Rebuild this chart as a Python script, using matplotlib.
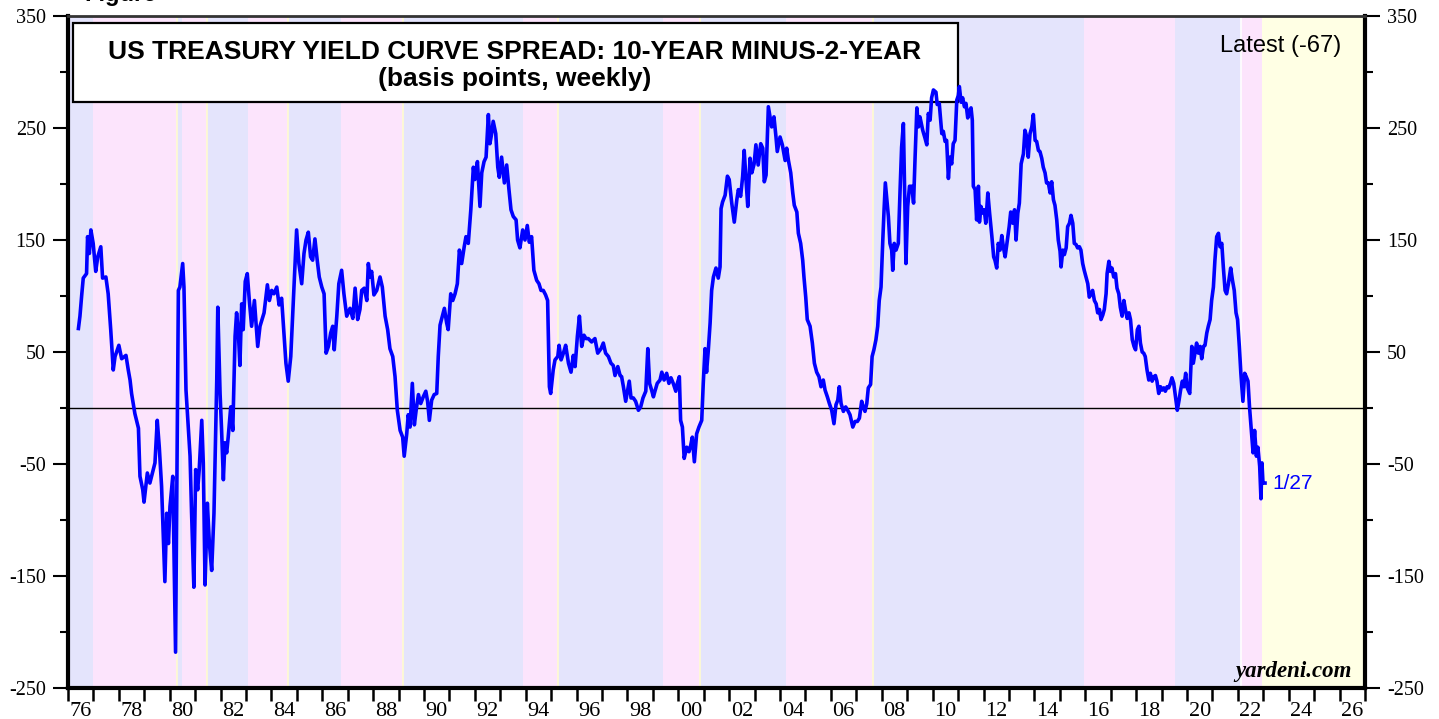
import matplotlib
matplotlib.use("Agg")
import matplotlib.pyplot as plt
from matplotlib.patches import Rectangle
from matplotlib.ticker import FixedLocator, NullFormatter

plt.rcParams["axes.unicode_minus"] = False

# weekly 10y-2y spread (bp): decimal year, value
years = [
    1976.41, 1976.47, 1976.54, 1976.60, 1976.73, 1976.77, 1976.84, 1976.90, 1976.99, 1977.09,
    1977.17, 1977.29, 1977.36, 1977.49, 1977.58, 1977.68, 1977.78, 1977.85, 1978.00, 1978.11,
    1978.28, 1978.37, 1978.44, 1978.50, 1978.63, 1978.77, 1978.83, 1978.94, 1978.99, 1979.12,
    1979.22, 1979.42, 1979.51, 1979.59, 1979.68, 1979.81, 1979.88, 1979.95, 1980.01, 1980.12,
    1980.23, 1980.34, 1980.40, 1980.51, 1980.56, 1980.64, 1980.73, 1980.80, 1980.86, 1980.95,
    1981.02, 1981.10, 1981.16, 1981.26, 1981.32, 1981.39, 1981.48, 1981.56, 1981.65, 1981.74,
    1981.85, 1981.89, 1981.98, 1982.04, 1982.11, 1982.17, 1982.24, 1982.30, 1982.40, 1982.48,
    1982.53, 1982.57, 1982.63, 1982.70, 1982.76, 1982.83, 1982.89, 1982.97, 1983.05, 1983.13,
    1983.22, 1983.33, 1983.46, 1983.55, 1983.71, 1983.84, 1983.92, 1984.01, 1984.10, 1984.21,
    1984.30, 1984.40, 1984.49, 1984.57, 1984.66, 1984.76, 1984.86, 1984.93, 1984.99, 1985.08,
    1985.19, 1985.28, 1985.36, 1985.45, 1985.54, 1985.62, 1985.71, 1985.80, 1985.88, 1985.98,
    1986.07, 1986.15, 1986.24, 1986.33, 1986.41, 1986.47, 1986.57, 1986.65, 1986.76, 1986.85,
    1986.96, 1987.09, 1987.20, 1987.29, 1987.39, 1987.48, 1987.55, 1987.65, 1987.75, 1987.81,
    1987.88, 1987.94, 1988.03, 1988.14, 1988.27, 1988.36, 1988.47, 1988.57, 1988.66, 1988.77,
    1988.86, 1988.95, 1989.06, 1989.16, 1989.22, 1989.32, 1989.38, 1989.45, 1989.54, 1989.62,
    1989.69, 1989.78, 1989.87, 1989.97, 1990.07, 1990.14, 1990.21, 1990.30, 1990.40, 1990.50,
    1990.56, 1990.63, 1990.72, 1990.80, 1990.89, 1990.95, 1991.05, 1991.13, 1991.22, 1991.31,
    1991.39, 1991.48, 1991.58, 1991.65, 1991.74, 1991.84, 1991.94, 1992.00, 1992.10, 1992.20,
    1992.27, 1992.36, 1992.44, 1992.53, 1992.59, 1992.66, 1992.72, 1992.82, 1992.90, 1992.96,
    1993.05, 1993.16, 1993.25, 1993.34, 1993.42, 1993.51, 1993.62, 1993.68, 1993.77, 1993.88,
    1993.97, 1994.06, 1994.14, 1994.23, 1994.32, 1994.43, 1994.52, 1994.60, 1994.69, 1994.78,
    1994.86, 1994.93, 1994.98, 1995.08, 1995.15, 1995.26, 1995.31, 1995.39, 1995.48, 1995.57,
    1995.68, 1995.78, 1995.87, 1995.94, 1996.03, 1996.11, 1996.20, 1996.29, 1996.37, 1996.46,
    1996.59, 1996.72, 1996.83, 1996.96, 1997.05, 1997.14, 1997.25, 1997.35, 1997.44, 1997.51,
    1997.62, 1997.71, 1997.77, 1997.84, 1997.93, 1998.01, 1998.07, 1998.14, 1998.23, 1998.32,
    1998.43, 1998.52, 1998.61, 1998.72, 1998.80, 1998.87, 1998.95, 1999.02, 1999.08, 1999.17,
    1999.28, 1999.35, 1999.44, 1999.54, 1999.63, 1999.71, 1999.80, 1999.90, 1999.96, 2000.04,
    2000.09, 2000.16, 2000.23, 2000.33, 2000.42, 2000.49, 2000.55, 2000.63, 2000.72, 2000.81,
    2000.92, 2000.98, 2001.05, 2001.11, 2001.18, 2001.25, 2001.31, 2001.38, 2001.48, 2001.57,
    2001.64, 2001.68, 2001.74, 2001.84, 2001.93, 2002.00, 2002.10, 2002.20, 2002.30, 2002.36,
    2002.45, 2002.53, 2002.59, 2002.66, 2002.73, 2002.82, 2002.89, 2002.98, 2003.05, 2003.14,
    2003.24, 2003.32, 2003.38, 2003.45, 2003.54, 2003.61, 2003.67, 2003.76, 2003.84, 2003.89,
    2004.00, 2004.09, 2004.20, 2004.26, 2004.33, 2004.42, 2004.50, 2004.56, 2004.66, 2004.72,
    2004.81, 2004.89, 2004.94, 2005.01, 2005.07, 2005.18, 2005.27, 2005.35, 2005.44, 2005.53,
    2005.61, 2005.70, 2005.77, 2005.86, 2005.94, 2006.03, 2006.12, 2006.20, 2006.27, 2006.33,
    2006.40, 2006.49, 2006.58, 2006.66, 2006.75, 2006.86, 2006.95, 2007.04, 2007.12, 2007.21,
    2007.27, 2007.34, 2007.41, 2007.47, 2007.56, 2007.62, 2007.69, 2007.77, 2007.84, 2007.90,
    2007.97, 2008.04, 2008.09, 2008.14, 2008.20, 2008.26, 2008.32, 2008.39, 2008.43, 2008.49,
    2008.56, 2008.65, 2008.72, 2008.78, 2008.85, 2008.91, 2008.95, 2009.02, 2009.09, 2009.18,
    2009.25, 2009.31, 2009.38, 2009.44, 2009.50, 2009.61, 2009.70, 2009.77, 2009.83, 2009.90,
    2009.96, 2010.03, 2010.13, 2010.18, 2010.26, 2010.36, 2010.42, 2010.49, 2010.55, 2010.62,
    2010.68, 2010.75, 2010.81, 2010.88, 2010.95, 2011.01, 2011.05, 2011.12, 2011.18, 2011.25,
    2011.31, 2011.38, 2011.44, 2011.51, 2011.56, 2011.60, 2011.67, 2011.73, 2011.80, 2011.84,
    2011.90, 2011.97, 2012.03, 2012.09, 2012.17, 2012.24, 2012.33, 2012.40, 2012.45, 2012.52,
    2012.58, 2012.65, 2012.72, 2012.78, 2012.85, 2012.94, 2013.01, 2013.07, 2013.15, 2013.22,
    2013.28, 2013.35, 2013.41, 2013.48, 2013.57, 2013.63, 2013.70, 2013.76, 2013.83, 2013.90,
    2013.96, 2014.03, 2014.09, 2014.16, 2014.22, 2014.29, 2014.35, 2014.42, 2014.48, 2014.55,
    2014.62, 2014.68, 2014.75, 2014.81, 2014.88, 2014.94, 2015.01, 2015.05, 2015.12, 2015.18,
    2015.25, 2015.31, 2015.38, 2015.44, 2015.51, 2015.57, 2015.64, 2015.70, 2015.77, 2015.83,
    2015.90, 2015.96, 2016.03, 2016.10, 2016.16, 2016.23, 2016.29, 2016.36, 2016.43, 2016.49,
    2016.56, 2016.62, 2016.69, 2016.75, 2016.82, 2016.86, 2016.93, 2016.99, 2017.05, 2017.12,
    2017.19, 2017.25, 2017.32, 2017.38, 2017.45, 2017.52, 2017.58, 2017.65, 2017.72, 2017.78,
    2017.85, 2017.92, 2017.98, 2018.05, 2018.11, 2018.17, 2018.24, 2018.30, 2018.36, 2018.43,
    2018.50, 2018.56, 2018.63, 2018.70, 2018.76, 2018.82, 2018.89, 2018.96, 2019.02, 2019.09,
    2019.15, 2019.22, 2019.28, 2019.35, 2019.41, 2019.48, 2019.54, 2019.62, 2019.69, 2019.75,
    2019.82, 2019.88, 2019.95, 2020.01, 2020.11, 2020.19, 2020.25, 2020.32, 2020.38, 2020.45,
    2020.52, 2020.58, 2020.65, 2020.71, 2020.78, 2020.84, 2020.91, 2020.97, 2021.04, 2021.10,
    2021.17, 2021.24, 2021.30, 2021.37, 2021.43, 2021.50, 2021.56, 2021.63, 2021.72, 2021.79,
    2021.86, 2021.93, 2021.99, 2022.06, 2022.12, 2022.20, 2022.27, 2022.33, 2022.40, 2022.46,
    2022.53, 2022.60, 2022.66, 2022.73, 2022.79, 2022.86, 2022.91, 2022.95, 2022.99, 2023.07,
]
spread = [
    71, 82, 101, 116, 120, 153, 138, 159, 147, 122,
    135, 144, 116, 117, 102, 70, 34, 46, 56, 44,
    47, 34, 25, 13, -5, -18, -61, -73, -84, -58,
    -67, -49, -11, -35, -70, -155, -94, -121, -88, -61,
    -218, 105, 108, 129, 108, 16, -17, -43, -94, -160,
    -55, -73, -55, -11, -49, -158, -85, -121, -145, -94,
    25, 90, 13, -20, -64, -31, -40, -26, 1, -20,
    25, 64, 85, 67, 38, 93, 70, 113, 120, 96,
    73, 96, 55, 73, 85, 110, 96, 105, 102, 108,
    92, 98, 67, 40, 24, 46, 96, 132, 159, 129,
    111, 138, 150, 157, 135, 132, 151, 132, 117, 108,
    102, 49, 55, 67, 73, 52, 82, 111, 123, 102,
    82, 89, 80, 107, 79, 88, 105, 107, 96, 129,
    117, 122, 101, 105, 117, 108, 82, 70, 53, 46,
    28, -2, -20, -26, -43, -23, -6, -17, 22, -15,
    -2, 12, 4, 10, 15, 6, -11, 7, 12, 13,
    46, 74, 82, 89, 76, 70, 102, 96, 102, 111,
    141, 129, 144, 153, 147, 177, 215, 204, 220, 180,
    210, 220, 224, 262, 236, 245, 256, 245, 215, 206,
    224, 201, 217, 195, 177, 171, 168, 150, 143, 159,
    150, 163, 148, 153, 123, 114, 111, 105, 105, 101,
    96, 19, 13, 34, 43, 46, 56, 43, 49, 56,
    40, 32, 47, 37, 64, 82, 55, 65, 62, 62,
    59, 62, 49, 53, 58, 49, 46, 40, 38, 29,
    37, 29, 28, 19, 6, 16, 24, 9, 9, 6,
    -2, 1, 9, 15, 53, 22, 16, 10, 15, 22,
    25, 32, 25, 31, 22, 27, 22, 15, 22, 28,
    -11, -17, -45, -35, -39, -33, -26, -48, -23, -17,
    -11, 22, 53, 32, 52, 76, 105, 117, 125, 116,
    126, 178, 184, 190, 207, 204, 183, 166, 186, 195,
    189, 207, 230, 204, 180, 223, 210, 218, 235, 217,
    236, 232, 202, 208, 269, 259, 251, 260, 242, 229,
    242, 235, 221, 232, 221, 210, 192, 181, 175, 156,
    147, 132, 117, 99, 79, 73, 58, 40, 32, 28,
    19, 25, 16, 10, 4, -2, -14, 3, 7, 19,
    4, -3, 1, -2, -6, -17, -12, -12, -9, 6,
    1, -3, 4, 18, 21, 46, 52, 61, 73, 96,
    108, 150, 177, 201, 186, 171, 147, 141, 123, 147,
    141, 147, 195, 233, 254, 180, 129, 180, 198, 198,
    183, 224, 268, 251, 260, 248, 241, 235, 263, 257,
    277, 284, 282, 271, 272, 245, 247, 238, 239, 205,
    224, 218, 236, 239, 275, 279, 287, 273, 277, 269,
    272, 259, 265, 268, 257, 198, 195, 168, 198, 166,
    180, 174, 177, 165, 192, 174, 153, 135, 132, 125,
    147, 141, 154, 144, 135, 150, 162, 175, 165, 177,
    150, 174, 183, 218, 227, 248, 242, 224, 245, 251,
    262, 239, 238, 230, 229, 223, 215, 210, 201, 201,
    192, 202, 186, 181, 168, 150, 140, 126, 141, 137,
    143, 162, 165, 172, 165, 147, 146, 143, 144, 141,
    129, 123, 117, 111, 99, 102, 105, 96, 93, 85,
    88, 79, 83, 88, 102, 120, 131, 122, 125, 117,
    120, 107, 102, 90, 82, 96, 88, 80, 85, 79,
    61, 55, 52, 70, 73, 58, 50, 49, 46, 34,
    25, 31, 24, 28, 29, 24, 13, 19, 16, 18,
    15, 19, 18, 22, 27, 22, 12, -2, 7, 16,
    24, 19, 31, 18, 13, 55, 40, 50, 58, 49,
    55, 44, 55, 56, 67, 73, 79, 96, 108, 132,
    153, 156, 144, 147, 126, 105, 102, 111, 125, 114,
    105, 85, 79, 55, 31, 6, 31, 28, 24, 1,
    -20, -40, -20, -43, -35, -52, -81, -49, -67, -67,
]

# Fed policy shading: boundaries (decimal year), alternating easing / tightening
band_edges = [1976.0, 1976.97, 1980.29, 1980.47, 1981.45, 1983.07, 1984.64, 1986.74,
              1989.19, 1993.88, 1995.25, 1999.39, 2000.86, 2004.23, 2007.66, 2015.96,
              2019.53, 2022.13, 2022.97]
band_kinds = ["ease", "tight", "ease", "tight", "ease", "tight", "ease", "tight", "ease",
              "tight", "ease", "tight", "ease", "tight", "ease", "tight", "ease", "tight"]
divider_years = [1980.29, 1981.45, 1984.64, 1989.19, 1995.25, 2000.86, 2007.66]
latest_label = "1/27"
latest_value = -67

x_label_years = list(range(1976, 2027, 2))
x_labels = [f"{y % 100:02d}" for y in x_label_years]
y_major = [-250, -150, -50, 50, 150, 250, 350]
y_minor = [-200, -100, 0, 100, 200, 300]

band_colors = {"ease": "#E4E4FC", "tight": "#FCE4FC"}
SANS = "Liberation Sans"
SERIF = "Liberation Serif"

fig = plt.figure(figsize=(14.39, 7.19), dpi=100)
ax = fig.add_axes([0.04725, 0.0431, 0.9013, 0.9346])
ax.set_xlim(1976, 2027)
ax.set_ylim(-250, 350)
ax.set_facecolor("#FFFFE4")

for i, kind in enumerate(band_kinds):
    ax.axvspan(band_edges[i], band_edges[i + 1], color=band_colors[kind], lw=0, zorder=0)
for x in divider_years:
    ax.axvline(x, color="#FFFCD0", lw=1.2, zorder=1)
ax.axvline(band_edges[-2], color="white", lw=1.2, zorder=1)

ax.axhline(0, color="black", lw=1.0, zorder=3)

# title box
ax.add_patch(Rectangle((0.0039, 0.872), 0.682, 0.1176, transform=ax.transAxes,
                       facecolor="white", edgecolor="black", lw=1.6, zorder=4))
ax.text(0.3446, 0.947, "US TREASURY YIELD CURVE SPREAD: 10-YEAR MINUS-2-YEAR",
        transform=ax.transAxes, ha="center", va="center", fontsize=19,
        fontweight="bold", family=SANS, zorder=6)
ax.text(0.3446, 0.906, "(basis points, weekly)", transform=ax.transAxes,
        ha="center", va="center", fontsize=19, fontweight="bold", family=SANS, zorder=6)

ax.plot(years, spread, color="#0000FF", lw=2.6, zorder=5, solid_joinstyle="round")

ax.text(0.9352, 0.9554, f"Latest ({latest_value})", transform=ax.transAxes,
        ha="center", va="center", fontsize=17, family=SANS)
ax.text(years[-1] + 0.27, latest_value, latest_label, color="#0000FF",
        ha="left", va="center", fontsize=15, family=SANS)
ax.text(0.99, 0.024, "yardeni.com", transform=ax.transAxes, ha="right", va="center",
        fontsize=16.5, fontweight="bold", fontstyle="italic", family=SERIF)

# y axis, both sides
ax.yaxis.set_major_locator(FixedLocator(y_major))
ax.yaxis.set_minor_locator(FixedLocator(y_minor))
ax.tick_params(axis="y", which="both", direction="out", left=True, right=True,
               labelleft=True, labelright=True, labelsize=14.5, width=1.5)
ax.tick_params(axis="y", which="major", length=11, pad=5)
ax.tick_params(axis="y", which="minor", length=5.5)

# x axis: ticks at year boundaries, labels centred in the year
ax.xaxis.set_major_locator(FixedLocator(range(1976, 2028)))
ax.xaxis.set_major_formatter(NullFormatter())
ax.xaxis.set_minor_locator(FixedLocator([y + 0.5 for y in x_label_years]))
ax.set_xticklabels(x_labels, minor=True)
ax.tick_params(axis="x", which="major", direction="out", length=9.5, width=1.8)
ax.tick_params(axis="x", which="minor", length=0, pad=10, labelsize=16)

for lab in ax.get_xticklabels(minor=True) + ax.yaxis.get_ticklabels(which="both"):
    lab.set_family(SERIF)

for side in ["left", "right", "bottom"]:
    ax.spines[side].set_linewidth(3)
ax.spines["top"].set_linewidth(2)
ax.spines["top"].set_color("#333333")

# figure caption above the frame, cut off at the top edge as in the source
fig.text(84 / 1439, 1 - 1.5 / 719, "Figure", fontsize=17, fontweight="bold",
         family=SANS, va="baseline", ha="left")

fig.savefig("out.png", dpi=100)
